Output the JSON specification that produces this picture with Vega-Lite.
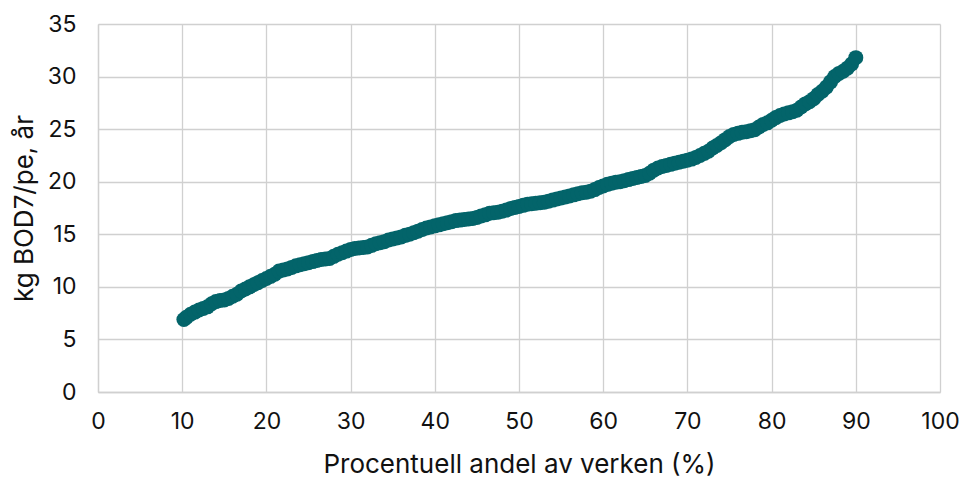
{
  "$schema": "https://vega.github.io/schema/vega-lite/v6.json",
  "width": 842,
  "height": 368,
  "autosize": "none",
  "padding": {"left": 98, "top": 24, "right": 20, "bottom": 89},
  "background": "white",
  "config": {
    "view": {"stroke": null},
    "font": "Inter",
    "axis": {
      "labelFont": "Inter",
      "titleFont": "Inter",
      "labelFontSize": 23,
      "titleFontSize": 26,
      "labelColor": "#111111",
      "titleColor": "#111111",
      "titleFontWeight": "normal",
      "gridColor": "#d0d0d0",
      "gridWidth": 1.3,
      "domainColor": "#d0d0d0",
      "domainWidth": 1.3,
      "ticks": false,
      "labelFlush": false
    }
  },
  "data": {
    "values": [
      {"x": 10.2, "y": 6.9}, {"x": 10.5, "y": 7.1}, {"x": 11.0, "y": 7.4}, {"x": 11.5, "y": 7.6},
      {"x": 12.0, "y": 7.8}, {"x": 12.5, "y": 7.95}, {"x": 13.0, "y": 8.1}, {"x": 13.5, "y": 8.4},
      {"x": 14.0, "y": 8.6}, {"x": 14.5, "y": 8.7}, {"x": 15.0, "y": 8.75}, {"x": 15.5, "y": 8.9},
      {"x": 16.0, "y": 9.1}, {"x": 16.5, "y": 9.3}, {"x": 17.0, "y": 9.6}, {"x": 17.5, "y": 9.8},
      {"x": 18.0, "y": 10.0}, {"x": 18.5, "y": 10.2}, {"x": 19.0, "y": 10.4}, {"x": 19.5, "y": 10.6},
      {"x": 20.0, "y": 10.8}, {"x": 20.5, "y": 11.0}, {"x": 21.0, "y": 11.2}, {"x": 21.5, "y": 11.5},
      {"x": 22.0, "y": 11.6}, {"x": 22.5, "y": 11.7}, {"x": 23.0, "y": 11.85}, {"x": 23.5, "y": 12.0},
      {"x": 24.0, "y": 12.1}, {"x": 24.5, "y": 12.2}, {"x": 25.0, "y": 12.3}, {"x": 25.5, "y": 12.4},
      {"x": 26.0, "y": 12.5}, {"x": 26.5, "y": 12.6}, {"x": 27.0, "y": 12.65}, {"x": 27.5, "y": 12.7},
      {"x": 28.0, "y": 12.9}, {"x": 28.5, "y": 13.1}, {"x": 29.0, "y": 13.25}, {"x": 29.5, "y": 13.4},
      {"x": 30.0, "y": 13.55}, {"x": 30.5, "y": 13.65}, {"x": 31.0, "y": 13.7}, {"x": 31.5, "y": 13.75},
      {"x": 32.0, "y": 13.8}, {"x": 32.5, "y": 13.95}, {"x": 33.0, "y": 14.1}, {"x": 33.5, "y": 14.2},
      {"x": 34.0, "y": 14.3}, {"x": 34.5, "y": 14.45}, {"x": 35.0, "y": 14.55}, {"x": 35.5, "y": 14.65},
      {"x": 36.0, "y": 14.75}, {"x": 36.5, "y": 14.9}, {"x": 37.0, "y": 15.0}, {"x": 37.5, "y": 15.15},
      {"x": 38.0, "y": 15.3}, {"x": 38.5, "y": 15.45}, {"x": 39.0, "y": 15.6}, {"x": 39.5, "y": 15.7},
      {"x": 40.0, "y": 15.8}, {"x": 40.5, "y": 15.9}, {"x": 41.0, "y": 16.0}, {"x": 41.5, "y": 16.1},
      {"x": 42.0, "y": 16.2}, {"x": 42.5, "y": 16.3}, {"x": 43.0, "y": 16.35}, {"x": 43.5, "y": 16.4},
      {"x": 44.0, "y": 16.45}, {"x": 44.5, "y": 16.5}, {"x": 45.0, "y": 16.6}, {"x": 45.5, "y": 16.75},
      {"x": 46.0, "y": 16.85}, {"x": 46.5, "y": 17.0}, {"x": 47.0, "y": 17.05}, {"x": 47.5, "y": 17.1},
      {"x": 48.0, "y": 17.2}, {"x": 48.5, "y": 17.3}, {"x": 49.0, "y": 17.45}, {"x": 49.5, "y": 17.55},
      {"x": 50.0, "y": 17.65}, {"x": 50.5, "y": 17.75}, {"x": 51.0, "y": 17.85}, {"x": 51.5, "y": 17.9},
      {"x": 52.0, "y": 17.95}, {"x": 52.5, "y": 18.0}, {"x": 53.0, "y": 18.05}, {"x": 53.5, "y": 18.15},
      {"x": 54.0, "y": 18.25}, {"x": 54.5, "y": 18.35}, {"x": 55.0, "y": 18.45}, {"x": 55.5, "y": 18.55},
      {"x": 56.0, "y": 18.65}, {"x": 56.5, "y": 18.75}, {"x": 57.0, "y": 18.85}, {"x": 57.5, "y": 18.95},
      {"x": 58.0, "y": 19.0}, {"x": 58.5, "y": 19.1}, {"x": 59.0, "y": 19.25}, {"x": 59.5, "y": 19.45},
      {"x": 60.0, "y": 19.6}, {"x": 60.5, "y": 19.75}, {"x": 61.0, "y": 19.85}, {"x": 61.5, "y": 19.95},
      {"x": 62.0, "y": 20.0}, {"x": 62.5, "y": 20.1}, {"x": 63.0, "y": 20.2}, {"x": 63.5, "y": 20.3},
      {"x": 64.0, "y": 20.4}, {"x": 64.5, "y": 20.5}, {"x": 65.0, "y": 20.6}, {"x": 65.5, "y": 20.8},
      {"x": 66.0, "y": 21.1}, {"x": 66.5, "y": 21.3}, {"x": 67.0, "y": 21.45}, {"x": 67.5, "y": 21.55},
      {"x": 68.0, "y": 21.65}, {"x": 68.5, "y": 21.75}, {"x": 69.0, "y": 21.85}, {"x": 69.5, "y": 21.95},
      {"x": 70.0, "y": 22.05}, {"x": 70.5, "y": 22.15}, {"x": 71.0, "y": 22.3}, {"x": 71.5, "y": 22.5},
      {"x": 72.0, "y": 22.7}, {"x": 72.5, "y": 22.9}, {"x": 73.0, "y": 23.2}, {"x": 73.5, "y": 23.45},
      {"x": 74.0, "y": 23.7}, {"x": 74.5, "y": 24.0}, {"x": 75.0, "y": 24.3}, {"x": 75.5, "y": 24.5},
      {"x": 76.0, "y": 24.6}, {"x": 76.5, "y": 24.7}, {"x": 77.0, "y": 24.75}, {"x": 77.5, "y": 24.85},
      {"x": 78.0, "y": 24.95}, {"x": 78.5, "y": 25.2}, {"x": 79.0, "y": 25.45}, {"x": 79.5, "y": 25.6},
      {"x": 80.0, "y": 25.85}, {"x": 80.5, "y": 26.1}, {"x": 81.0, "y": 26.3}, {"x": 81.5, "y": 26.45},
      {"x": 82.0, "y": 26.55}, {"x": 82.5, "y": 26.65}, {"x": 83.0, "y": 26.8}, {"x": 83.5, "y": 27.1},
      {"x": 84.0, "y": 27.4}, {"x": 84.5, "y": 27.6}, {"x": 85.0, "y": 27.9}, {"x": 85.5, "y": 28.3},
      {"x": 86.0, "y": 28.6}, {"x": 86.5, "y": 29.0}, {"x": 87.0, "y": 29.5}, {"x": 87.5, "y": 30.0},
      {"x": 88.0, "y": 30.3}, {"x": 88.5, "y": 30.5}, {"x": 89.0, "y": 30.8}, {"x": 89.5, "y": 31.2},
      {"x": 90.0, "y": 31.8}
    ]
  },
  "mark": {"type": "point", "filled": true, "shape": "circle", "size": 225, "opacity": 1, "color": "#03646a"},
  "encoding": {
    "x": {
      "field": "x", "type": "quantitative",
      "scale": {"domain": [0, 100], "nice": false, "zero": false},
      "axis": {"title": "Procentuell andel av verken (%)", "values": [0,10,20,30,40,50,60,70,80,90,100], "labelPadding": 18, "titlePadding": 18}
    },
    "y": {
      "field": "y", "type": "quantitative",
      "scale": {"domain": [0, 35], "nice": false},
      "axis": {"title": "kg BOD7/pe, år", "values": [0,5,10,15,20,25,30,35], "labelPadding": 22, "titlePadding": 10}
    }
  }
}
